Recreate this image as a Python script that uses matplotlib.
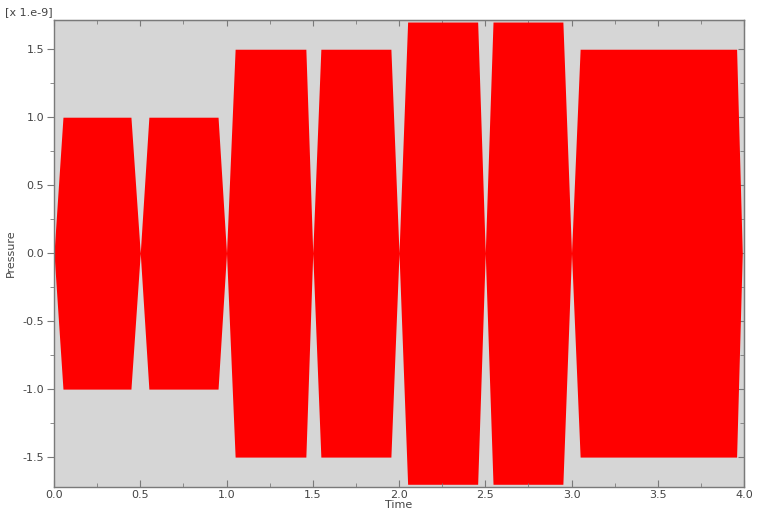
import matplotlib.pyplot as plt
from matplotlib.ticker import MultipleLocator

# envelope of the pressure signal (time, amplitude in 1e-9 units)
env_time = [0.0, 0.052, 0.446, 0.5,
            0.55, 0.951, 1.0,
            1.05, 1.46, 1.5,
            1.547, 1.953, 2.0,
            2.05, 2.456, 2.5,
            2.545, 2.95, 3.0,
            3.05, 3.957, 3.99]
env_amp = [0.0, 1.0, 1.0, 0.0,
           1.0, 1.0, 0.0,
           1.5, 1.5, 0.0,
           1.5, 1.5, 0.0,
           1.7, 1.7, 0.0,
           1.7, 1.7, 0.0,
           1.5, 1.5, 0.0]
neg_amp = [-a for a in env_amp]

xticks = [0.0, 0.5, 1.0, 1.5, 2.0, 2.5, 3.0, 3.5, 4.0]
yticks = [-1.5, -1.0, -0.5, 0.0, 0.5, 1.0, 1.5]

txt = '#444444'
spine = '#7a7a7a'
fs = 8

fig = plt.figure(figsize=(7.57, 5.12), dpi=100)
ax = fig.add_axes([54/757, 25/512, 690/757, 467/512])
ax.set_facecolor('#d6d6d6')

ax.fill_between(env_time, neg_amp, env_amp, color='#ff0000', linewidth=0)

ax.set_xlim(0, 4)
ax.set_ylim(-1.72, 1.715)
ax.set_xticks(xticks)
ax.set_yticks(yticks)
ax.set_xticklabels([f'{v:.1f}' for v in xticks])
ax.set_yticklabels([f'{v:.1f}' for v in yticks])
ax.xaxis.set_minor_locator(MultipleLocator(0.25))
ax.yaxis.set_minor_locator(MultipleLocator(0.25))

for s in ax.spines.values():
    s.set_color(spine)
    s.set_linewidth(1.0)

ax.tick_params(axis='x', which='major', direction='in', length=5, color=spine,
               labelsize=fs, labelcolor=txt, pad=2)
ax.tick_params(axis='x', which='minor', direction='in', length=3, color=spine)
ax.tick_params(axis='y', which='major', direction='out', length=5, color=spine,
               labelsize=fs, labelcolor=txt, pad=2)
ax.tick_params(axis='y', which='minor', direction='out', length=3, color=spine)

# top and right ticks point inward
top = ax.secondary_xaxis('top')
top.set_xticks(xticks)
top.xaxis.set_minor_locator(MultipleLocator(0.25))
top.tick_params(which='major', direction='in', length=4, color=spine, labeltop=False)
top.tick_params(which='minor', direction='in', length=3, color=spine)
top.spines['top'].set_color(spine)

right = ax.secondary_yaxis('right')
right.set_yticks(yticks)
right.yaxis.set_minor_locator(MultipleLocator(0.25))
right.tick_params(which='major', direction='in', length=4, color=spine, labelright=False)
right.tick_params(which='minor', direction='in', length=3, color=spine)
right.spines['right'].set_color(spine)

ax.set_xlabel('Time', fontsize=fs, color=txt, labelpad=0)
ax.set_ylabel('Pressure', fontsize=fs, color=txt, labelpad=5)
fig.text(5/757, 1 - 12/512, '[x 1.e-9]', fontsize=fs, color=txt, va='center', ha='left')

fig.savefig('out.png', dpi=100)
